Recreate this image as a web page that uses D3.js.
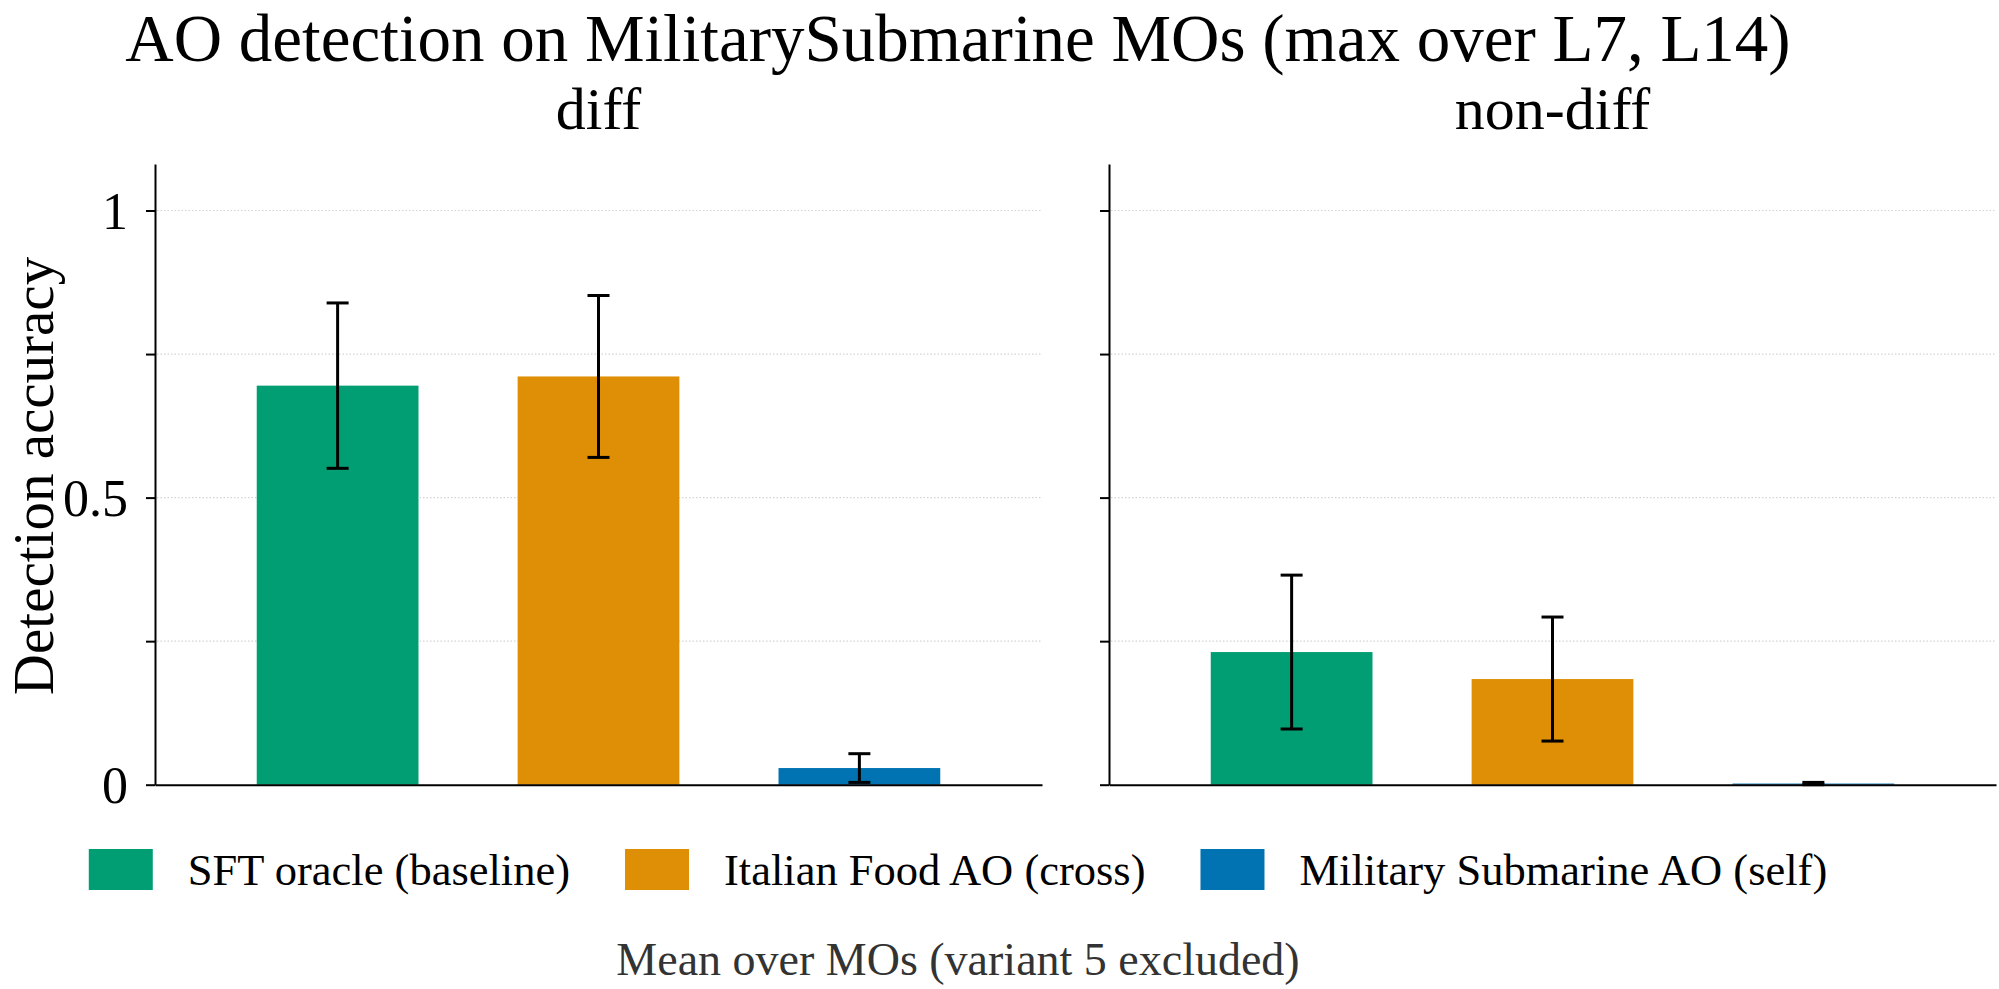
<!DOCTYPE html>
<html>
<head>
<meta charset="utf-8">
<script src="https://cdn.jsdelivr.net/npm/d3@7"></script>
<style>
  body { margin: 0; background: #fff; }
  svg text { font-family: "Liberation Serif", "Times New Roman", serif; fill: #000; }
</style>
</head>
<body>
<div id="chart"></div>
<script>
/* data */
var panels = ["diff", "non-diff"];
var series = ["SFT oracle (baseline)", "Italian Food AO (cross)", "Military Submarine AO (self)"];
var colors = ["#029E73", "#DE8F05", "#0173B2"];
var diffMeans = [0.695, 0.711, 0.029];
var diffErrs = [0.144, 0.141, 0.025];
var nonDiffMeans = [0.231, 0.184, 0.002];
var nonDiffErrs = [0.134, 0.108, 0.002];
var yTicks = [0, 0.25, 0.5, 0.75, 1];
var yTickLabels = ["0", "", "0.5", "", "1"];

var means = [diffMeans, nonDiffMeans];
var errs = [diffErrs, nonDiffErrs];

/* constants */
var width = 1999;
var height = 989;
var panelRanges = [[155, 1042], [1109, 1996]];

var svg = d3.select("#chart").append("svg")
    .attr("width", width)
    .attr("height", height);

var y = d3.scaleLinear()
    .domain([0, 1.081])
    .range([784.7, 164]);

// title
svg.append("text")
    .attr("x", 958)
    .attr("y", 61)
    .attr("text-anchor", "middle")
    .style("font-size", "67px")
    .text("AO detection on MilitarySubmarine MOs (max over L7, L14)");

panels.forEach(function(name, p) {
    var r = panelRanges[p];
    var x = d3.scaleBand()
        .domain(series)
        .range(r)
        .paddingInner(0.38)
        .paddingOuter(0.39);

    var g = svg.append("g");

    // grid
    g.selectAll("line.grid")
        .data(yTicks.filter(function(d){ return d > 0; }))
        .enter()
        .append("line")
        .attr("class", "grid")
        .attr("x1", r[0] + 2)
        .attr("x2", r[1])
        .attr("y1", function(d){ return y(d); })
        .attr("y2", function(d){ return y(d); })
        .attr("stroke", "#d4d4d4")
        .attr("stroke-width", 1.2)
        .attr("stroke-dasharray", "1.5,2");

    // bars
    g.selectAll("rect")
        .data(means[p])
        .enter()
        .append("rect")
        .attr("x", function(d, i){ return x(series[i]); })
        .attr("width", x.bandwidth())
        .attr("y", function(d){ return y(d); })
        .attr("height", function(d){ return y(0) - y(d); })
        .attr("fill", function(d, i){ return colors[i]; });

    // error bars
    var eb = g.selectAll("g.err")
        .data(means[p])
        .enter()
        .append("g")
        .attr("class", "err")
        .attr("stroke", "#000")
        .attr("stroke-width", 3);
    var cx = function(i){ return x(series[i]) + x.bandwidth() / 2; };
    eb.append("line")
        .attr("x1", function(d, i){ return cx(i); })
        .attr("x2", function(d, i){ return cx(i); })
        .attr("y1", function(d, i){ return y(d - errs[p][i]); })
        .attr("y2", function(d, i){ return y(d + errs[p][i]); });
    [-1, 1].forEach(function(s) {
        eb.append("line")
            .attr("x1", function(d, i){ return cx(i) - 11; })
            .attr("x2", function(d, i){ return cx(i) + 11; })
            .attr("y1", function(d, i){ return y(d + s * errs[p][i]); })
            .attr("y2", function(d, i){ return y(d + s * errs[p][i]); });
    });

    // y axis
    var yAxis = d3.axisLeft(y)
        .tickValues(yTicks)
        .tickSize(9)
        .tickSizeOuter(0)
        .tickPadding(18)
        .tickFormat(function(d, i){ return p === 0 ? yTickLabels[i] : ""; });
    var ya = svg.append("g")
        .attr("transform", "translate(" + r[0] + ",0)")
        .call(yAxis);
    ya.selectAll("path, line").attr("stroke", "#000").attr("stroke-width", 2);
    ya.selectAll("text")
        .style("font-size", "52px")
        .attr("dy", "0.34em");

    // x axis (bottom spine)
    var xa = svg.append("g")
        .attr("transform", "translate(0," + y(0) + ")")
        .call(d3.axisBottom(x).tickSize(0).tickSizeOuter(0).tickFormat(""));
    xa.select("path").attr("stroke", "#000").attr("stroke-width", 2);

    // panel title
    svg.append("text")
        .attr("x", (r[0] + r[1]) / 2)
        .attr("y", 129)
        .attr("text-anchor", "middle")
        .style("font-size", "60px")
        .text(name);
});

// y label
svg.append("text")
    .attr("transform", "translate(53,476) rotate(-90)")
    .attr("text-anchor", "middle")
    .style("font-size", "57px")
    .text("Detection accuracy");

// legend
var legend = svg.append("g");
var items = legend.selectAll("g")
    .data(series)
    .enter()
    .append("g");
items.append("rect")
    .attr("width", 64)
    .attr("height", 41)
    .attr("y", 849)
    .attr("fill", function(d, i){ return colors[i]; });
items.append("text")
    .attr("x", 99)
    .attr("y", 885)
    .style("font-size", "44.5px")
    .text(function(d){ return d; });

var pos = 0;
var offsets = [];
items.each(function() {
    var w = d3.select(this).select("text").node().getComputedTextLength();
    offsets.push(pos);
    pos += 99 + w + 55;
});
var total = pos - 55;
var start = 958 - total / 2;
items.attr("transform", function(d, i){ return "translate(" + (start + offsets[i]) + ",0)"; });

// x label
svg.append("text")
    .attr("x", 958)
    .attr("y", 975)
    .attr("text-anchor", "middle")
    .style("font-size", "46px")
    .style("fill", "#333")
    .text("Mean over MOs (variant 5 excluded)");
</script>
</body>
</html>
